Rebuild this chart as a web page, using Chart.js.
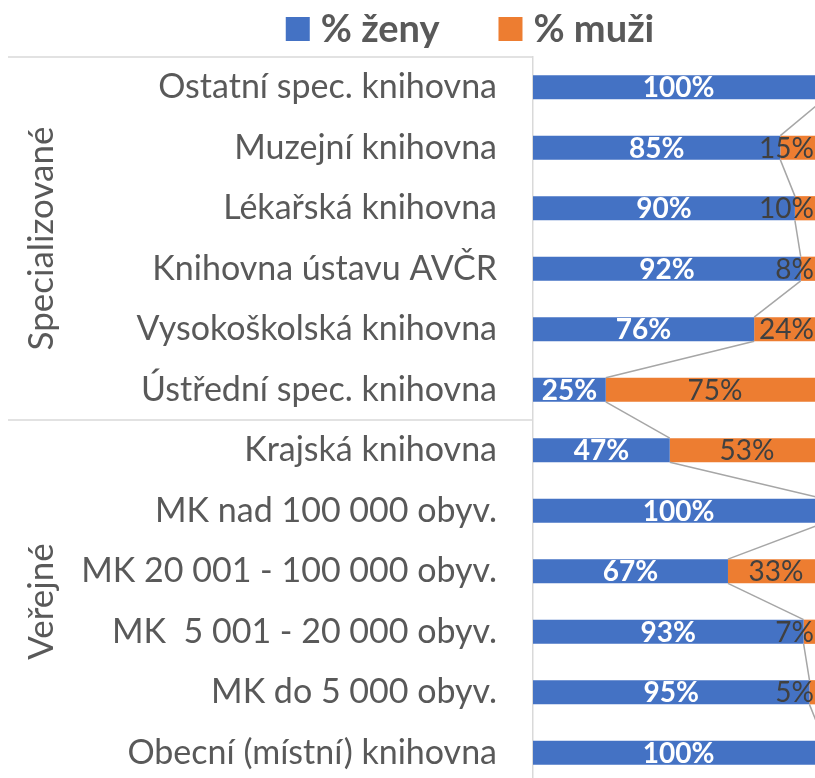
<!DOCTYPE html>
<html>
<head>
<meta charset="utf-8">
<script src="https://cdn.jsdelivr.net/npm/chart.js@4.4.1/dist/chart.umd.min.js"></script>
<style>
  html, body { margin: 0; padding: 0; background: #fff; overflow: hidden; }
  #wrap { position: relative; width: 824px; height: 783px; }
  canvas { display: block; }
</style>
</head>
<body>
<div id="wrap"><canvas id="genderChart" width="824" height="783"></canvas></div>
<script>
// data
const categories = [
    'Ostatní spec. knihovna',
    'Muzejní knihovna',
    'Lékařská knihovna',
    'Knihovna ústavu AVČR',
    'Vysokoškolská knihovna',
    'Ústřední spec. knihovna',
    'Krajská knihovna',
    'MK nad 100 000 obyv.',
    'MK 20 001 - 100 000 obyv.',
    'MK  5 001 - 20 000 obyv.',
    'MK do 5 000 obyv.',
    'Obecní (místní) knihovna'
];
const zeny = [100, 85, 90, 92, 76, 25, 47, 100, 67, 93, 95, 100];
const muzi = [0, 15, 10, 8, 24, 75, 53, 0, 33, 7, 5, 0];
const groupNames = ['Specializované', 'Veřejné'];
const groupSizes = [6, 6];
const seriesNames = ['% ženy', '% muži'];
const seriesColors = ['#4472C4', '#ED7D31'];

const FONT = 'Lato';
const TEXT = '#595959';
const LINE = '#d9d9d9';

// Excel-like series lines between bar ends
const seriesLines = {
    id: 'seriesLines',
    afterDatasetsDraw(chart) {
        const ctx = chart.ctx;
        ctx.save();
        ctx.strokeStyle = '#a6a6a6';
        ctx.lineWidth = 1.5;
        chart.data.datasets.forEach((ds, di) => {
            const bars = chart.getDatasetMeta(di).data;
            for (let i = 0; i < bars.length - 1; i++) {
                const a = bars[i].getProps(['x', 'y', 'height'], true);
                const b = bars[i + 1].getProps(['x', 'y', 'height'], true);
                ctx.beginPath();
                ctx.moveTo(a.x, a.y + a.height / 2);
                ctx.lineTo(b.x, b.y - b.height / 2);
                ctx.stroke();
            }
        });
        ctx.restore();
    }
};

// value labels inside the segments
const barLabels = {
    id: 'barLabels',
    afterDatasetsDraw(chart) {
        const ctx = chart.ctx;
        const limit = Math.min(chart.chartArea.right, window.innerWidth) - 1;
        ctx.save();
        ctx.textBaseline = 'middle';
        ctx.textAlign = 'left';
        chart.data.datasets.forEach((ds, di) => {
            ctx.font = (di === 0 ? 'bold ' : '') + '28px ' + FONT;
            ctx.fillStyle = di === 0 ? '#ffffff' : '#404040';
            chart.getDatasetMeta(di).data.forEach((bar, i) => {
                const v = ds.data[i];
                if (!v) return;
                const p = bar.getProps(['x', 'y', 'base'], true);
                const txt = v + '%';
                const w = ctx.measureText(txt).width;
                let cx = (p.x + p.base) / 2;
                if (cx + w / 2 > limit) cx = limit - w / 2;
                ctx.fillText(txt, cx - w / 2, p.y + 1);
            });
        });
        ctx.restore();
    }
};

// group labels + separators of the two-level category axis
const groupAxis = {
    id: 'groupAxis',
    afterDraw(chart) {
        const ctx = chart.ctx;
        const y = chart.scales.y;
        const left = 8;
        const right = chart.chartArea.left;
        const band = y.getPixelForValue(1) - y.getPixelForValue(0);
        ctx.save();
        ctx.strokeStyle = LINE;
        ctx.lineWidth = 1.5;
        ctx.fillStyle = TEXT;
        ctx.font = '35px ' + FONT;
        ctx.textAlign = 'center';
        ctx.textBaseline = 'middle';
        let start = 0;
        groupSizes.forEach((n, g) => {
            const top = y.getPixelForValue(start) - band / 2;
            const bottom = y.getPixelForValue(start + n - 1) + band / 2;
            ctx.beginPath();
            ctx.moveTo(left, top);
            ctx.lineTo(right, top);
            ctx.stroke();
            ctx.save();
            ctx.translate(42, (top + bottom) / 2);
            ctx.rotate(-Math.PI / 2);
            ctx.fillText(groupNames[g], 0, 0);
            ctx.restore();
            start += n;
        });
        ctx.restore();
    }
};

// legend on top
const topLegend = {
    id: 'topLegend',
    afterDraw(chart) {
        const ctx = chart.ctx;
        ctx.save();
        ctx.font = 'bold 38px ' + FONT;
        ctx.textBaseline = 'middle';
        ctx.textAlign = 'left';
        const box = 24, gap = 11, itemGap = 59;
        const widths = seriesNames.map(s => ctx.measureText(s).width);
        const total = widths.reduce((s, w) => s + box + gap + w, 0) + itemGap * (seriesNames.length - 1);
        let x = 470 - total / 2;
        const cy = 29;
        seriesNames.forEach((s, i) => {
            ctx.fillStyle = seriesColors[i];
            ctx.fillRect(x, cy - box / 2, box, box);
            ctx.fillStyle = TEXT;
            ctx.fillText(s, x + box + gap, cy + 1);
            x += box + gap + widths[i] + itemGap;
        });
        ctx.restore();
    }
};

new Chart(document.getElementById('genderChart'), {
    type: 'bar',
    data: {
        labels: categories,
        datasets: [
            { label: seriesNames[0], data: zeny, backgroundColor: seriesColors[0] },
            { label: seriesNames[1], data: muzi, backgroundColor: seriesColors[1] }
        ]
    },
    options: {
        indexAxis: 'y',
        responsive: false,
        animation: false,
        layout: { padding: { top: 57, right: 0, bottom: 0, left: 0 } },
        datasets: {
            bar: { categoryPercentage: 1, barPercentage: 0.4, borderWidth: 0 }
        },
        scales: {
            x: {
                stacked: true,
                min: 0,
                max: 100,
                display: false
            },
            y: {
                stacked: true,
                grid: { display: false, drawTicks: false },
                border: { display: true, color: LINE, width: 1.5 },
                ticks: {
                    color: TEXT,
                    font: { family: FONT, size: 34 },
                    padding: 36,
                    autoSkip: false
                },
                afterFit(scale) {
                    scale.width = 533;
                    // labels sit in the middle of their bands, no extra room needed
                    scale.paddingTop = 0;
                    scale.paddingBottom = 0;
                }
            }
        },
        plugins: {
            legend: { display: false },
            tooltip: { enabled: false }
        }
    },
    plugins: [seriesLines, barLabels, groupAxis, topLegend]
});
</script>
</body>
</html>
